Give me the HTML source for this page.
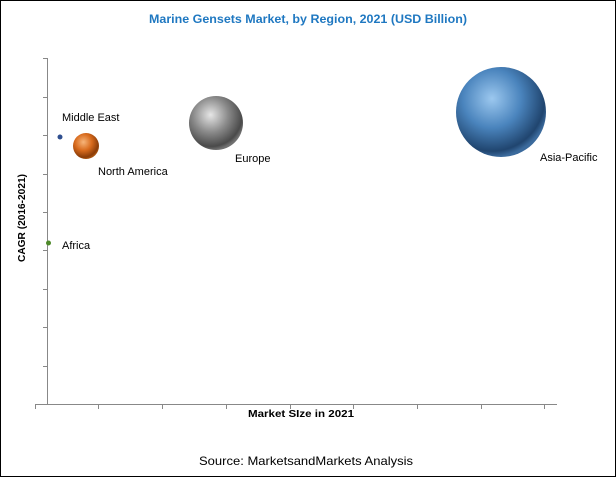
<!DOCTYPE html>
<html><head><style>
body{margin:0;background:#fff}
svg{display:block}
text{font-family:"Liberation Sans",sans-serif}
</style></head><body>
<svg width="616" height="477" viewBox="0 0 616 477">
<defs>
<radialGradient id="gb" cx="0.4" cy="0.35" r="0.65"><stop offset="0" stop-color="#9cc8ef"/><stop offset="0.5" stop-color="#4a84bd"/><stop offset="0.9" stop-color="#20456f"/><stop offset="1" stop-color="#3b6a9c"/></radialGradient>
<radialGradient id="gg" cx="0.4" cy="0.35" r="0.65"><stop offset="0" stop-color="#e6e6e6"/><stop offset="0.5" stop-color="#8a8a8a"/><stop offset="0.9" stop-color="#4a4a4a"/><stop offset="1" stop-color="#707070"/></radialGradient>
<radialGradient id="go" cx="0.4" cy="0.35" r="0.65"><stop offset="0" stop-color="#f7b57a"/><stop offset="0.5" stop-color="#d86a1c"/><stop offset="0.9" stop-color="#8a3c08"/><stop offset="1" stop-color="#a8520f"/></radialGradient>
</defs>
<rect x="0.5" y="0.5" width="615" height="476" fill="#fff" stroke="#000"/>
<text x="308" y="23" text-anchor="middle" font-size="12" font-weight="bold" fill="#1f78c1" textLength="318" lengthAdjust="spacingAndGlyphs">Marine Gensets Market, by Region, 2021 (USD Billion)</text>
<g stroke="#888" stroke-width="1">
<line x1="47.5" y1="58" x2="47.5" y2="405"/>
<line x1="35" y1="404.5" x2="557" y2="404.5"/>
<g>
<line x1="43" y1="58.5" x2="47" y2="58.5"/><line x1="43" y1="97.5" x2="47" y2="97.5"/><line x1="43" y1="135.5" x2="47" y2="135.5"/><line x1="43" y1="174.5" x2="47" y2="174.5"/><line x1="43" y1="212.5" x2="47" y2="212.5"/><line x1="43" y1="250.5" x2="47" y2="250.5"/><line x1="43" y1="289.5" x2="47" y2="289.5"/><line x1="43" y1="327.5" x2="47" y2="327.5"/><line x1="43" y1="366.5" x2="47" y2="366.5"/>
</g>
<g>
<line x1="35.5" y1="404" x2="35.5" y2="409"/><line x1="98.5" y1="404" x2="98.5" y2="409"/><line x1="162.5" y1="404" x2="162.5" y2="409"/><line x1="226.5" y1="404" x2="226.5" y2="409"/><line x1="290.5" y1="404" x2="290.5" y2="409"/><line x1="353.5" y1="404" x2="353.5" y2="409"/><line x1="417.5" y1="404" x2="417.5" y2="409"/><line x1="481.5" y1="404" x2="481.5" y2="409"/><line x1="544.5" y1="404" x2="544.5" y2="409"/>
</g>
</g>
<circle cx="501" cy="112" r="45" fill="url(#gb)"/>
<circle cx="216" cy="123" r="27" fill="url(#gg)"/>
<circle cx="86" cy="146" r="13" fill="url(#go)"/>
<circle cx="60" cy="137" r="2.5" fill="#2f4f8f"/>
<circle cx="48.5" cy="243" r="2.5" fill="#4e8a2a"/>
<g font-size="11" fill="#000">
<text x="62" y="121">Middle East</text>
<text x="98" y="175">North America</text>
<text x="235" y="162">Europe</text>
<text x="540" y="161">Asia-Pacific</text>
<text x="62" y="249">Africa</text>
</g>
<text transform="translate(25,218) rotate(-90)" text-anchor="middle" font-size="10" font-weight="bold" textLength="88" lengthAdjust="spacingAndGlyphs">CAGR (2016-2021)</text>
<text x="301" y="417" text-anchor="middle" font-size="10" font-weight="bold" textLength="106" lengthAdjust="spacingAndGlyphs">Market SIze in 2021</text>
<text x="306" y="465" text-anchor="middle" font-size="12" textLength="214" lengthAdjust="spacingAndGlyphs">Source:  MarketsandMarkets  Analysis</text>
</svg>
</body></html>
